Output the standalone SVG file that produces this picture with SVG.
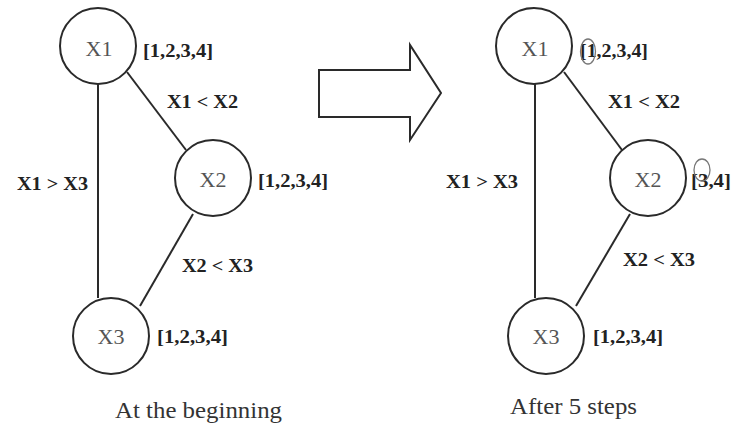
<svg xmlns="http://www.w3.org/2000/svg" width="736" height="427" viewBox="0 0 736 427">
<style>
.node{fill:#fff;stroke:#2a2a2a;stroke-width:2}
.nl{font-family:'Liberation Serif','Times New Roman',Tinos,serif;font-size:22px;fill:#555;text-anchor:middle}
.lb{font-family:'Liberation Serif','Times New Roman',Tinos,serif;font-size:18px;font-weight:bold;fill:#222}
.cap{font-family:'Liberation Serif','Times New Roman',Tinos,serif;font-size:24px;fill:#333}
.edge{stroke:#2a2a2a;stroke-width:2;fill:none}
.mark{fill:none;stroke:#777;stroke-width:1.3}
</style>
<rect width="736" height="427" fill="#fff"/>
<g id="connectors">
<line class="edge" x1="98" y1="84" x2="98" y2="298"/>
<line class="edge" x1="127" y1="72" x2="186" y2="150"/>
<line class="edge" x1="193" y1="214" x2="140" y2="306"/>
<line class="edge" x1="535" y1="84" x2="535" y2="298"/>
<line class="edge" x1="564" y1="72" x2="622" y2="150"/>
<line class="edge" x1="630" y1="214" x2="576" y2="306"/>
</g>
<g id="left-x1"><circle class="node" cx="98" cy="46" r="38"/><text class="nl" x="99" y="56">X1</text></g>
<g id="left-x2"><circle class="node" cx="213" cy="178" r="38"/><text class="nl" x="213" y="187">X2</text></g>
<g id="left-x3"><circle class="node" cx="111" cy="336" r="38"/><text class="nl" x="111" y="344">X3</text></g>
<g id="right-x1"><circle class="node" cx="534" cy="46" r="38"/><text class="nl" x="535" y="56">X1</text></g>
<g id="right-x2"><circle class="node" cx="648" cy="178" r="38"/><text class="nl" x="648" y="187">X2</text></g>
<g id="right-x3"><circle class="node" cx="546" cy="336" r="38"/><text class="nl" x="546" y="344">X3</text></g>
<g id="labels">
<text class="lb" x="143" y="57" textLength="70" lengthAdjust="spacingAndGlyphs">[1,2,3,4]</text>
<text class="lb" x="258" y="187" textLength="70" lengthAdjust="spacingAndGlyphs">[1,2,3,4]</text>
<text class="lb" x="157" y="343" textLength="71" lengthAdjust="spacingAndGlyphs">[1,2,3,4]</text>
<text class="lb" x="167" y="108" textLength="71" lengthAdjust="spacingAndGlyphs">X1 &lt; X2</text>
<text class="lb" x="17" y="190" textLength="71" lengthAdjust="spacingAndGlyphs">X1 &gt; X3</text>
<text class="lb" x="182" y="272" textLength="71" lengthAdjust="spacingAndGlyphs">X2 &lt; X3</text>
<text class="lb" x="580" y="57" textLength="68" lengthAdjust="spacingAndGlyphs">[1,2,3,4]</text>
<text class="lb" x="691" y="187" textLength="40" lengthAdjust="spacingAndGlyphs">[3,4]</text>
<text class="lb" x="593" y="343" textLength="70" lengthAdjust="spacingAndGlyphs">[1,2,3,4]</text>
<text class="lb" x="608" y="108" textLength="72" lengthAdjust="spacingAndGlyphs">X1 &lt; X2</text>
<text class="lb" x="446" y="188" textLength="72" lengthAdjust="spacingAndGlyphs">X1 &gt; X3</text>
<text class="lb" x="623" y="266" textLength="72" lengthAdjust="spacingAndGlyphs">X2 &lt; X3</text>
<ellipse class="mark" cx="588" cy="51.5" rx="7.5" ry="12.5"/>
<ellipse class="mark" cx="702" cy="170" rx="8" ry="11"/>
</g>
<g id="arrow"><polygon points="319,70 410,70 410,45 441,93 410,140 410,117 319,117" fill="#fff" stroke="#2a2a2a" stroke-width="2"/></g>
<g id="captions">
<text class="cap" x="115" y="418" textLength="167" lengthAdjust="spacingAndGlyphs">At the beginning</text>
<text class="cap" x="510" y="414" textLength="127" lengthAdjust="spacingAndGlyphs">After 5 steps</text>
</g>
</svg>
